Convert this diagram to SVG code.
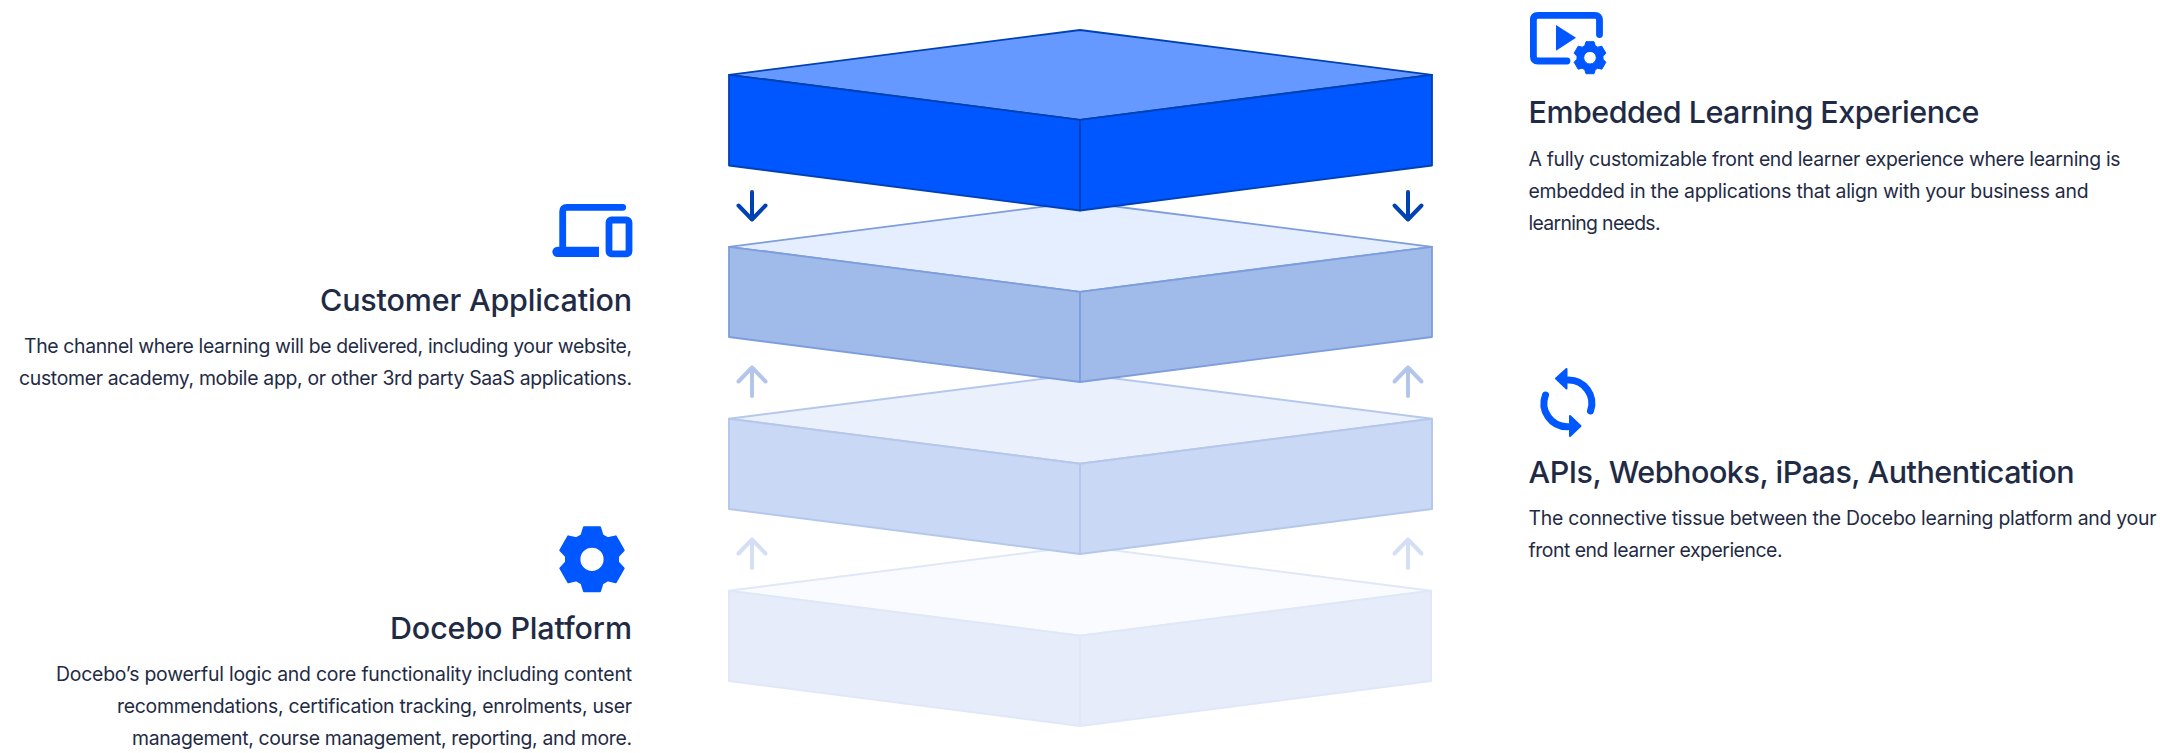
<svg xmlns="http://www.w3.org/2000/svg" width="2160" height="753" viewBox="0 0 2160 753">
<style>
text{font-family:"Inter","Liberation Sans",sans-serif;fill:#1f2b45}
.t{font-size:30.5px;font-weight:500}
.b{font-size:19.4px;font-weight:400}
.e{text-anchor:end}
.i{fill:#0057ff}
.s{fill:none;stroke:#0057ff;stroke-linecap:round;stroke-linejoin:round}
.g{fill:#0057ff;stroke:#0057ff;stroke-width:2;stroke-linejoin:round;fill-rule:evenodd}
.f{stroke-linejoin:round}
.a{fill:none;stroke-width:4;stroke-linecap:round;stroke-linejoin:round}
</style>
<defs>
<path id="gear" d="M-10.5-24L-8-32L8-32L10.5-24L15.53-21.09L23.71-22.93L31.71-9.07L26.03-2.91L26.03 2.91L31.71 9.07L23.71 22.93L15.53 21.09L10.5 24L8 32L-8 32L-10.5 24L-15.53 21.09L-23.71 22.93L-31.71 9.07L-26.03 2.91L-26.03-2.91L-31.71-9.07L-23.71-22.93L-15.53-21.09ZM12.6 0A12.6 12.6 0 1 0-12.6 0A12.6 12.6 0 1 0 12.6 0Z"/>
</defs>
<g id="block-docebo" fill="#f9fbff" stroke="#e0e8f8" stroke-width="2" class="f">
<path d="M729 590.8L1080 546L1431 590.8L1080 635.8Z"/>
<path fill="#e6ecf9" d="M729 590.8L1080 635.8L1080 726L729 681Z"/>
<path fill="#e6ecf9" d="M1080 635.8L1431 590.8L1431 681L1080 726Z"/>
</g>
<g id="block-apis" fill="#eaf1fd" stroke="#b5c8eb" stroke-width="2" class="f">
<path d="M729 418.8L1080 374L1432 418.8L1080 463.8Z"/>
<path fill="#c9d8f5" d="M729 418.8L1080 463.8L1080 554L729 509Z"/>
<path fill="#c9d8f5" d="M1080 463.8L1432 418.8L1432 509L1080 554Z"/>
</g>
<g id="block-customer" fill="#e5eeff" stroke="#7d9ddc" stroke-width="1.8" class="f">
<path d="M729 246.8L1080 202L1432 246.8L1080 291.8Z"/>
<path fill="#a0bae9" d="M729 246.8L1080 291.8L1080 382L729 337Z"/>
<path fill="#a0bae9" d="M1080 291.8L1432 246.8L1432 337L1080 382Z"/>
</g>
<g id="block-embedded" fill="#6699ff" stroke="#0041b3" stroke-width="1.8" class="f">
<path d="M729 74.8L1080 30L1432 74.8L1080 119.8Z"/>
<path fill="#0057ff" d="M729 74.8L1080 119.8L1080 210.5L729 165.5Z"/>
<path fill="#0057ff" d="M1080 119.8L1432 74.8L1432 165.5L1080 210.5Z"/>
</g>
<g id="connectors">
<g class="a" stroke="#0041b3">
<path d="M752 192V219.5M738.5 205.5L752 219.5L765.5 205.5"/>
<path d="M1408 192V219.5M1394.5 205.5L1408 219.5L1421.5 205.5"/>
</g>
<g class="a" stroke="#b3c6ea">
<path d="M752 396V367.5M738.5 381.5L752 367.5L765.5 381.5"/>
<path d="M1408 396V367.5M1394.5 381.5L1408 367.5L1421.5 381.5"/>
</g>
<g class="a" stroke="#d4dff5">
<path d="M752 568V539.5M738.5 553.5L752 539.5L765.5 553.5"/>
<path d="M1408 568V539.5M1394.5 553.5L1408 539.5L1421.5 553.5"/>
</g>
</g>
<g id="node-embedded">
<path class="s" stroke-width="6.8" stroke-linecap="butt" d="M1599.5 34.5V20Q1599.5 15.4 1595 15.4H1538Q1533.4 15.4 1533.4 20V56.5Q1533.4 61 1538 61H1567"/>
<path class="i" d="M1556 25L1576 37.8L1556 50.8Z"/>
<use href="#gear" class="g" transform="translate(1590 57.7) scale(.5)"/>
<text class="t" x="1528.5" y="122.7" textLength="451">Embedded Learning Experience</text>
<text class="b" x="1528.5" y="165.5" textLength="592">A fully customizable front end learner experience where learning is</text>
<text class="b" x="1528.5" y="197.5" textLength="560">embedded in the applications that align with your business and</text>
<text class="b" x="1528.5" y="229.5" textLength="132">learning needs.</text>
</g>
<g id="node-apis">
<path class="s" stroke-width="7" d="M1590.5 411A23.3 23.3 0 0 0 1568 380M1545.5 395A23.3 23.3 0 0 0 1568 426.7"/>
<path class="g" d="M1556 378.5L1566.5 369V388.5ZM1580.5 426L1570 416V436Z"/>
<text class="t" x="1528.5" y="482.5" textLength="546">APIs, Webhooks, iPaas, Authentication</text>
<text class="b" x="1528.5" y="524.5" textLength="628">The connective tissue between the Docebo learning platform and your</text>
<text class="b" x="1528.5" y="556.5" textLength="254">front end learner experience.</text>
</g>
<g id="node-customer">
<path class="s" stroke-width="6.8" d="M622.7 207.3H567Q562.7 207.3 562.7 211.6V250"/>
<path class="i" d="M557.5 246.7H599V257H557.5A5.15 5.15 0 0 1 557.5 246.7Z"/>
<rect x="609" y="220" width="20" height="33.8" rx="2.5" fill="none" stroke="#0057ff" stroke-width="6.8"/>
<text class="t e" x="632" y="310.5" textLength="312">Customer Application</text>
<text class="b e" x="632" y="352.5" textLength="608">The channel where learning will be delivered, including your website,</text>
<text class="b e" x="632" y="384.5" textLength="613">customer academy, mobile app, or other 3rd party SaaS applications.</text>
</g>
<g id="node-docebo">
<use href="#gear" class="g" transform="translate(592 559.3)"/>
<text class="t e" x="632" y="638.5" textLength="242">Docebo Platform</text>
<text class="b e" x="632" y="680.5" textLength="576">Docebo’s powerful logic and core functionality including content</text>
<text class="b e" x="632" y="712.5" textLength="515">recommendations, certification tracking, enrolments, user</text>
<text class="b e" x="632" y="744.5" textLength="500">management, course management, reporting, and more.</text>
</g>
</svg>
